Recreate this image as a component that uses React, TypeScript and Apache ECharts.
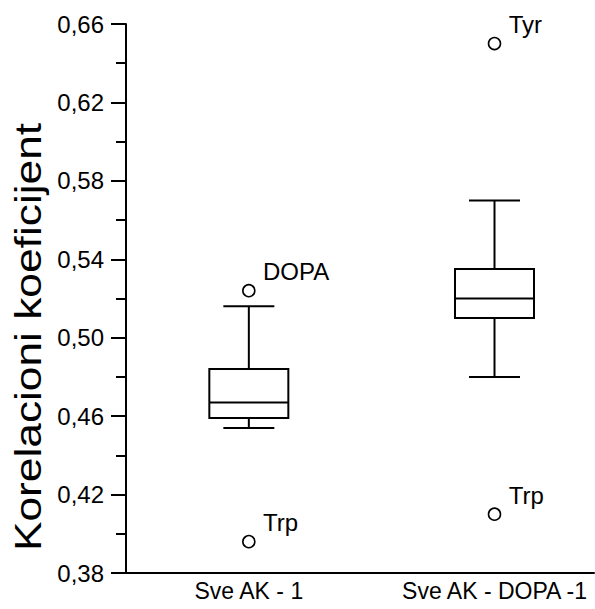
import React, { useEffect, useRef } from "react";
import * as echarts from "echarts";

const categories = ["Sve AK - 1", "Sve AK - DOPA -1"];
const categoryPos = [1, 3];
const whiskerLow = [0.454, 0.48];
const q1 = [0.459, 0.51];
const median = [0.467, 0.52];
const q3 = [0.484, 0.535];
const whiskerHigh = [0.516, 0.57];

const outlierGroup = [0, 0, 1, 1];
const outlierValues = [0.524, 0.396, 0.65, 0.41];
const outlierNames = ["DOPA", "Trp", "Tyr", "Trp"];

const majorTicks = [0.38, 0.42, 0.46, 0.5, 0.54, 0.58, 0.62, 0.66];
const minorTicks = [0.4, 0.44, 0.48, 0.52, 0.56, 0.6, 0.64];
const yTitle = "Korelacioni koeficijent";

const FONT = "Liberation Sans, Arial, Helvetica, sans-serif";

export default function App() {
  const ref = useRef<HTMLDivElement>(null);
  useEffect(() => {
    if (!ref.current) return;
    const chart = echarts.init(ref.current, undefined, { renderer: "svg" });
    const boxData = categoryPos.map((p, i) => [p, whiskerLow[i], q1[i], median[i], q3[i], whiskerHigh[i]]);
    const outData = outlierValues.map((v, i) => ({ value: [categoryPos[outlierGroup[i]], v], name: outlierNames[i] }));
    const lineStyle = { stroke: "#000", lineWidth: 2, fill: null };
    chart.setOption({
      animation: false,
      backgroundColor: "#fff",
      grid: { left: 126, right: 1, top: 24, bottom: 36, outerBoundsMode: "none" },
      xAxis: {
        type: "value",
        min: 0,
        max: 3.81,
        axisLine: { show: true, lineStyle: { color: "#000", width: 2 } },
        axisTick: { show: false },
        splitLine: { show: false },
        axisLabel: {
          customValues: categoryPos,
          formatter: (v: number) => {
            const i = categoryPos.indexOf(Math.round(v));
            return i >= 0 ? categories[i] : "";
          },
          color: "#000",
          fontFamily: FONT,
          fontSize: 23,
          margin: 6,
        },
      },
      yAxis: [
        {
          type: "value",
          min: 0.38,
          max: 0.66,
          position: "left",
          axisLine: { show: true, lineStyle: { color: "#000", width: 2 } },
          axisTick: { show: true, customValues: majorTicks, length: 15, lineStyle: { color: "#000", width: 2 } },
          splitLine: { show: false },
          axisLabel: {
            customValues: majorTicks,
            formatter: (v: number) => v.toFixed(2).replace(".", ","),
            color: "#000",
            fontFamily: FONT,
            fontSize: 24,
            margin: 22,
          },
        },
        {
          type: "value",
          min: 0.38,
          max: 0.66,
          position: "left",
          offset: 0,
          axisLine: { show: false },
          axisTick: { show: true, customValues: minorTicks, length: 10, lineStyle: { color: "#000", width: 2 } },
          splitLine: { show: false },
          axisLabel: { show: false },
        },
      ],
      graphic: [
        {
          type: "text",
          x: 29,
          y: 337,
          rotation: Math.PI / 2,
          scaleX: 1.23,
          style: {
            text: yTitle,
            fontSize: 36,
            fontFamily: FONT,
            fill: "#000",
            textAlign: "center",
            textVerticalAlign: "middle",
          },
        },
      ],
      series: [
        {
          type: "custom",
          data: boxData,
          encode: { x: 0, y: [1, 2, 3, 4, 5] },
          renderItem: (params: any, api: any) => {
            const x = api.value(0);
            const pLow = api.coord([x, api.value(1)]);
            const pQ1 = api.coord([x, api.value(2)]);
            const pMed = api.coord([x, api.value(3)]);
            const pQ3 = api.coord([x, api.value(4)]);
            const pHigh = api.coord([x, api.value(5)]);
            const cx = pMed[0];
            const bw = 39.5;
            const cw = 25.5;
            return {
              type: "group",
              children: [
                { type: "line", shape: { x1: cx, y1: pHigh[1], x2: cx, y2: pQ3[1] }, style: lineStyle },
                { type: "line", shape: { x1: cx - cw, y1: pHigh[1], x2: cx + cw, y2: pHigh[1] }, style: lineStyle },
                { type: "line", shape: { x1: cx, y1: pQ1[1], x2: cx, y2: pLow[1] }, style: lineStyle },
                { type: "line", shape: { x1: cx - cw, y1: pLow[1], x2: cx + cw, y2: pLow[1] }, style: lineStyle },
                {
                  type: "rect",
                  shape: { x: cx - bw, y: pQ3[1], width: bw * 2, height: pQ1[1] - pQ3[1] },
                  style: { stroke: "#000", lineWidth: 2, fill: "#fff" },
                },
                { type: "line", shape: { x1: cx - bw, y1: pMed[1], x2: cx + bw, y2: pMed[1] }, style: lineStyle },
              ],
            };
          },
        },
        {
          type: "scatter",
          data: outData,
          symbol: "circle",
          symbolSize: 12,
          itemStyle: { color: "#fff", borderColor: "#000", borderWidth: 1.6, opacity: 1 },
          label: {
            show: true,
            formatter: (p: any) => p.name,
            position: [21, -12],
            align: "left",
            verticalAlign: "middle",
            color: "#000",
            fontFamily: FONT,
            fontSize: 24,
          },
        },
      ],
    });
    return () => chart.dispose();
  }, []);
  return <div ref={ref} style={{ position: "fixed", left: 0, top: 0, width: 595, height: 609 }} />;
}
